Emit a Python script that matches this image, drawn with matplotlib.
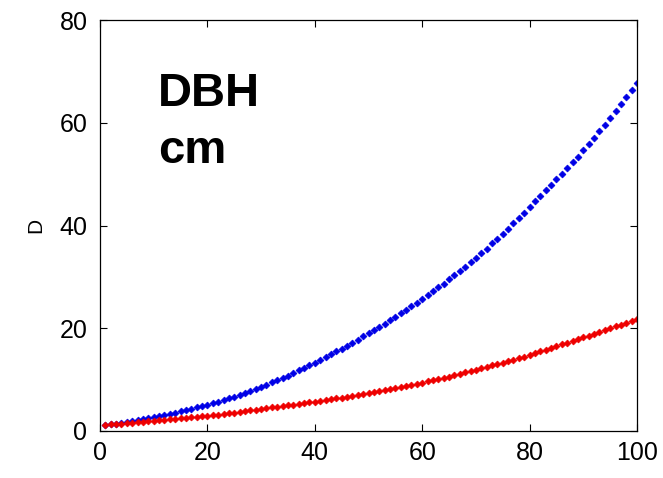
import matplotlib
matplotlib.use("Agg")
import matplotlib.pyplot as plt

plt.rcParams['font.family'] = ['Liberation Sans', 'DejaVu Sans']

x_vals = list(range(1, 101))

blue_vals = [
    1.1, 1.3, 1.4, 1.6, 1.8, 2.0, 2.1, 2.3, 2.5, 2.7,
    2.9, 3.1, 3.3, 3.6, 3.8, 4.0, 4.3, 4.6, 4.8, 5.1,
    5.4, 5.7, 6.0, 6.4, 6.7, 7.1, 7.4, 7.8, 8.2, 8.6,
    9.0, 9.5, 9.9, 10.4, 10.8, 11.3, 11.8, 12.3, 12.8, 13.3,
    13.8, 14.4, 14.9, 15.5, 16.0, 16.6, 17.2, 17.8, 18.4, 19.0,
    19.6, 20.3, 20.9, 21.6, 22.2, 22.9, 23.6, 24.3, 25.0, 25.7,
    26.4, 27.2, 28.0, 28.7, 29.5, 30.3, 31.2, 32.0, 32.9, 33.7,
    34.6, 35.5, 36.5, 37.4, 38.3, 39.4, 40.4, 41.4, 42.5, 43.6,
    44.7, 45.8, 46.9, 47.9, 49.0, 50.1, 51.2, 52.3, 53.4, 54.6,
    55.8, 57.0, 58.3, 59.6, 60.9, 62.2, 63.6, 65.0, 66.4, 67.8,
]

red_vals = [
    1.2, 1.3, 1.35, 1.4, 1.5, 1.6, 1.7, 1.75, 1.85, 1.95,
    2.05, 2.15, 2.25, 2.35, 2.45, 2.55, 2.65, 2.75, 2.85, 2.95,
    3.1, 3.2, 3.35, 3.45, 3.6, 3.75, 3.9, 4.0, 4.15, 4.3,
    4.45, 4.6, 4.7, 4.85, 5.0, 5.15, 5.3, 5.4, 5.55, 5.7,
    5.85, 6.0, 6.2, 6.35, 6.5, 6.7, 6.85, 7.05, 7.2, 7.4,
    7.6, 7.8, 8.0, 8.2, 8.4, 8.6, 8.8, 9.0, 9.2, 9.4,
    9.65, 9.9, 10.1, 10.35, 10.6, 10.85, 11.1, 11.4, 11.65, 11.9,
    12.2, 12.45, 12.75, 13.0, 13.3, 13.6, 13.9, 14.2, 14.5, 14.8,
    15.15, 15.5, 15.8, 16.15, 16.5, 16.85, 17.2, 17.5, 17.85, 18.2,
    18.55, 18.9, 19.3, 19.65, 20.0, 20.35, 20.7, 21.1, 21.45, 21.8,
]

x_ticks = [0, 20, 40, 60, 80, 100]
y_ticks = [0, 20, 40, 60, 80]

fig = plt.figure(figsize=(6.63, 4.78), dpi=100)
ax = fig.add_axes([100/663, 1 - 431/478, 537/663, 411/478])

ax.plot(x_vals, blue_vals, linestyle='none', marker='D', markersize=3.5,
        color='#0000e6', markeredgewidth=0.5)
ax.plot(x_vals, red_vals, linestyle='none', marker='D', markersize=3.5,
        color='#ee0000', markeredgewidth=0.5)

ax.set_xlim(0, 100)
ax.set_ylim(0, 80)
ax.set_xticks(x_ticks)
ax.set_yticks(y_ticks)
ax.tick_params(direction='in', top=True, right=True, length=5, width=0.8,
               labelsize=18)
ax.tick_params(axis='x', pad=7)
ax.tick_params(axis='y', pad=9)
for s in ax.spines.values():
    s.set_linewidth(0.9)

ax.set_ylabel('D', fontsize=15, labelpad=10)

ax.text(10.8, 63.2, 'DBH', fontsize=34, fontweight='bold', va='baseline', ha='left')
ax.text(10.8, 52.2, 'cm', fontsize=34, fontweight='bold', va='baseline', ha='left')

fig.savefig('out.png', dpi=100)
